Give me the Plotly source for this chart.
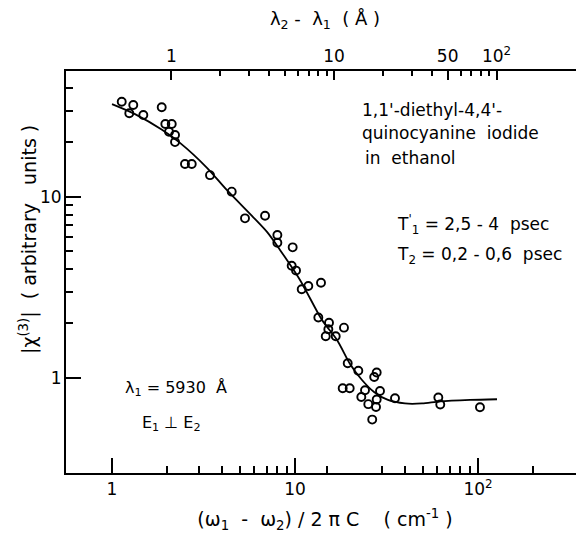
import plotly.graph_objects as go

# Measured points: frequency difference (cm^-1) and |chi(3)| (arbitrary units)
freq = [1.13, 1.307, 1.243, 1.483, 1.869, 1.956, 2.120, 2.049, 2.210, 2.210,
        2.505, 2.727, 3.432, 4.510, 5.33, 6.86, 8.01, 8.01, 9.71, 9.59,
        10.13, 11.82, 10.88, 13.87, 13.41, 15.34, 15.21, 14.72, 16.69, 18.52,
        19.41, 22.18, 27.95, 27.09, 18.22, 19.90, 24.13, 29.14, 23.03, 27.95,
        25.15, 27.71, 26.42, 35.19, 60.7, 62.2, 102.5]
chi3 = [33.6, 32.2, 29.0, 28.4, 31.3, 25.3, 25.3, 22.9, 22.0, 20.1,
        15.2, 15.2, 13.2, 10.7, 7.62, 7.88, 6.17, 5.59, 5.27, 4.17,
        3.92, 3.22, 3.09, 3.36, 2.16, 2.02, 1.858, 1.700, 1.700, 1.897,
        1.206, 1.097, 1.072, 1.013, 0.877, 0.877, 0.855, 0.848, 0.785, 0.760,
        0.717, 0.691, 0.589, 0.772, 0.780, 0.714, 0.689]

# Theoretical curve
curve_freq = [1.00, 1.336, 1.876, 2.352, 3.304, 4.25, 5.90, 7.03, 8.28, 10.65,
              14.05, 16.97, 19.98, 23.23, 27.03, 32.2, 39.9, 49.4, 62.0, 90.4, 127]
curve_chi3 = [32.6, 28.7, 23.5, 19.9, 14.5, 10.9, 7.75, 6.41, 5.10, 3.48,
              2.09, 1.62, 1.195, 0.975, 0.837, 0.756, 0.723, 0.723, 0.742, 0.756, 0.763]

# Tick labels
bottom_major = [1, 10, 100]
bottom_major_text = ["1", "10", "10<sup>2</sup>"]
bottom_minor = [2, 3, 4, 5, 6, 7, 8, 9, 15, 30, 40, 50, 60, 70, 80, 90, 200]
top_major = [1, 10, 50, 100]
top_major_text = ["1", "10", "50", "10<sup>2</sup>"]
top_minor = [2, 3, 4, 5, 6, 7, 8, 9, 20, 30, 40, 60, 70, 80, 90]
left_major = [1, 10]
left_major_text = ["1", "10"]
left_minor = [2, 3, 4, 5, 6, 7, 8, 9, 20, 30, 40]

FONT = "DejaVu Sans"
S = "\u00a0"  # non-breaking space keeps the wide spacing of the original lettering

fig = go.Figure()
fig.add_trace(go.Scatter(x=curve_freq, y=curve_chi3, mode="lines",
                         line=dict(color="black", width=1.8, shape="spline", smoothing=0.8),
                         showlegend=False, hoverinfo="skip"))
fig.add_trace(go.Scatter(x=freq, y=chi3, mode="markers",
                         marker=dict(symbol="circle-open", size=8, color="black",
                                     line=dict(width=1.9, color="black")),
                         showlegend=False))
# empty trace to activate the top axis
fig.add_trace(go.Scatter(x=[], y=[], xaxis="x2", yaxis="y", showlegend=False))

# the page body adds an 8px offset; margins compensate for it
fig.update_layout(
    width=584, height=533,
    margin=dict(l=58, r=8, t=63, b=68),
    paper_bgcolor="white", plot_bgcolor="white",
    font=dict(family=FONT, size=16, color="black"),
    xaxis=dict(type="log", range=[-0.2514, 2.5792], automargin=False,
               showline=True, linecolor="black", linewidth=2, mirror=False,
               showgrid=False, zeroline=False,
               ticks="inside", ticklen=15, tickwidth=1.6, tickcolor="black",
               tickvals=bottom_major, ticktext=bottom_major_text,
               tickfont=dict(size=17),
               minor=dict(tickvals=bottom_minor, ticks="inside", ticklen=7,
                          tickwidth=1.6, tickcolor="black", showgrid=False),
               title=dict(text=f"{S}{S}(ω<sub>1</sub>{S}{S}-{S}{S}ω<sub>2</sub>){S}/{S}2{S}π{S}C{S}{S}{S}{S}({S}cm<sup>-1</sup>{S})",
                          font=dict(size=19), standoff=14)),
    xaxis2=dict(type="log", range=[-0.649, 2.538], overlaying="x", side="top",
                anchor="y", automargin=False,
                showline=True, linecolor="black", linewidth=2,
                showgrid=False, zeroline=False,
                ticks="inside", ticklen=9, tickwidth=1.6, tickcolor="black",
                tickvals=top_major, ticktext=top_major_text,
                tickfont=dict(size=17), ticklabelstandoff=0,
                minor=dict(tickvals=top_minor, ticks="inside", ticklen=5,
                           tickwidth=1.6, tickcolor="black", showgrid=False),
                title=dict(text=f"λ<sub>2</sub>{S}-{S}{S}λ<sub>1</sub>{S}{S}({S}Å{S})",
                           font=dict(size=18), standoff=16)),
    yaxis=dict(type="log", range=[-0.525, 1.696], automargin=False,
               showline=True, linecolor="black", linewidth=2, mirror=False,
               showgrid=False, zeroline=False,
               ticks="inside", ticklen=15, tickwidth=1.6, tickcolor="black",
               tickvals=left_major, ticktext=left_major_text,
               tickfont=dict(size=17), ticklabelstandoff=-1,
               minor=dict(tickvals=left_minor, ticks="inside", ticklen=7,
                          tickwidth=1.6, tickcolor="black", showgrid=False)),
)

# y-axis title placed as in the original (above the plot's vertical centre)
fig.add_annotation(text=f"|χ<sup>(3)</sup>|{S}{S}({S}arbitrary{S}{S}{S}units{S})",
                   x=-0.0735, y=0.582, xref="paper", yref="paper",
                   xanchor="center", yanchor="middle", textangle=-90, showarrow=False,
                   font=dict(family=FONT, size=19, color="black"))

notes = [
    ("1,1'-diethyl-4,4'-", 0.5676, 0.903),
    (f"quinocyanine{S}{S}iodide", 0.5676, 0.846),
    (f"in{S}{S}ethanol", 0.573, 0.784),
    (f"T<sup>'</sup><sub>1</sub>{S}={S}2,5{S}-{S}4{S}{S}psec", 0.636, 0.617),
    (f"T<sub>2</sub>{S}={S}0,2{S}-{S}0,6{S}{S}psec", 0.636, 0.540),
]
for text, x, y in notes:
    fig.add_annotation(text=text, x=x, y=y, xref="paper", yref="paper",
                       xanchor="left", yanchor="middle", showarrow=False,
                       font=dict(family=FONT, size=17, color="black"))

for text, x, y in [(f"λ<sub>1</sub>{S}={S}5930{S}{S}Å", 0.110, 0.209),
                   (f"E<sub>1</sub>{S}⊥{S}E<sub>2</sub>", 0.143, 0.124)]:
    fig.add_annotation(text=text, x=x, y=y, xref="paper", yref="paper",
                       xanchor="left", yanchor="middle", showarrow=False,
                       font=dict(family=FONT, size=16, color="black"))

fig.write_html("out.html")
